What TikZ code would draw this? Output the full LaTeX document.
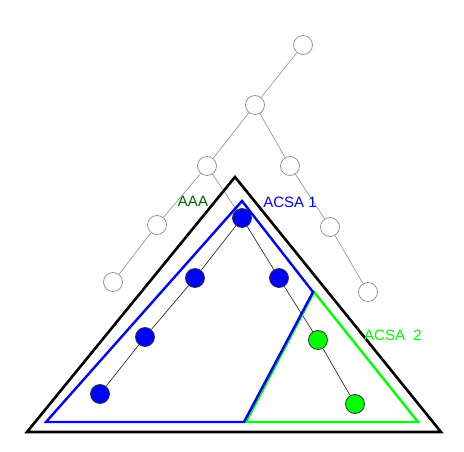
\documentclass[tikz,border=0pt]{standalone}
\usepackage{fontspec}
\setmainfont{Liberation Sans}
\begin{document}
\begin{tikzpicture}[x=1pt,y=-1pt,
  gnode/.style={circle,draw=gray!80,fill=white,line width=0.8pt,minimum size=19pt,inner sep=0pt},
  bnode/.style={circle,draw=black!80,fill=blue,line width=0.8pt,minimum size=19pt,inner sep=0pt},
  grnode/.style={circle,draw=black!80,fill=green,line width=0.8pt,minimum size=19pt,inner sep=0pt},
  gedge/.style={draw=gray!80,line width=0.7pt},
  kedge/.style={draw=black!80,line width=0.7pt},
  lbl/.style={font=\fontsize{15}{17}\selectfont,inner sep=0pt}]
\useasboundingbox (0,0) rectangle (464,452);
% nodes
\node[gnode] (r) at (303,45) {};
\node[gnode] (a) at (255,105) {};
\node[gnode] (b) at (207,166) {};
\node[gnode] (c) at (290,166) {};
\node[gnode] (d) at (157,225) {};
\node[bnode] (e) at (242,218) {};
\node[gnode] (f) at (330,227) {};
\node[gnode] (g) at (113,282) {};
\node[bnode] (h) at (195,278) {};
\node[bnode] (i) at (279,278) {};
\node[gnode] (j) at (368,292) {};
\node[bnode] (k) at (145,337) {};
\node[grnode] (l) at (318,340) {};
\node[bnode] (m) at (100,394) {};
\node[grnode] (n) at (355,404) {};
% edges
\draw[gedge] (r) -- (a);
\draw[gedge] (a) -- (b);
\draw[gedge] (a) -- (c);
\draw[gedge] (b) -- (d);
\draw[gedge] (b) -- (e);
\draw[gedge] (c) -- (f);
\draw[gedge] (d) -- (g);
\draw[kedge] (e) -- (h);
\draw[kedge] (e) -- (i);
\draw[gedge] (f) -- (j);
\draw[kedge] (h) -- (k);
\draw[kedge] (i) -- (l);
\draw[kedge] (k) -- (m);
\draw[kedge] (l) -- (n);
% regions
\coordinate (t1) at (235,177);
\coordinate (t2) at (27,432);
\coordinate (t3) at (441,432);
\draw[black,line width=2.6pt,line join=miter] (t1) -- (t2) -- (t3) -- cycle;
\coordinate (b1) at (242,201);
\coordinate (b2) at (46,422);
\coordinate (b3) at (244,422);
\coordinate (b4) at (313,292);
\coordinate (g1) at (314,292);
\coordinate (g2) at (246,422);
\coordinate (g3) at (418,422);
\draw[green,line width=2.4pt] (g1) -- (g2) -- (g3) -- cycle;
\draw[blue,line width=2.4pt] (b1) -- (b2) -- (b3) -- (b4) -- cycle;
% labels
\node[lbl,text=green!40!black] (laaa) at (193,201) {AAA};
\node[lbl,text=blue] (lacsa1) at (290,202) {ACSA 1};
\node[lbl,text=green] (lacsa2) at (393,335) {ACSA\ \ 2};
\end{tikzpicture}
\end{document}
